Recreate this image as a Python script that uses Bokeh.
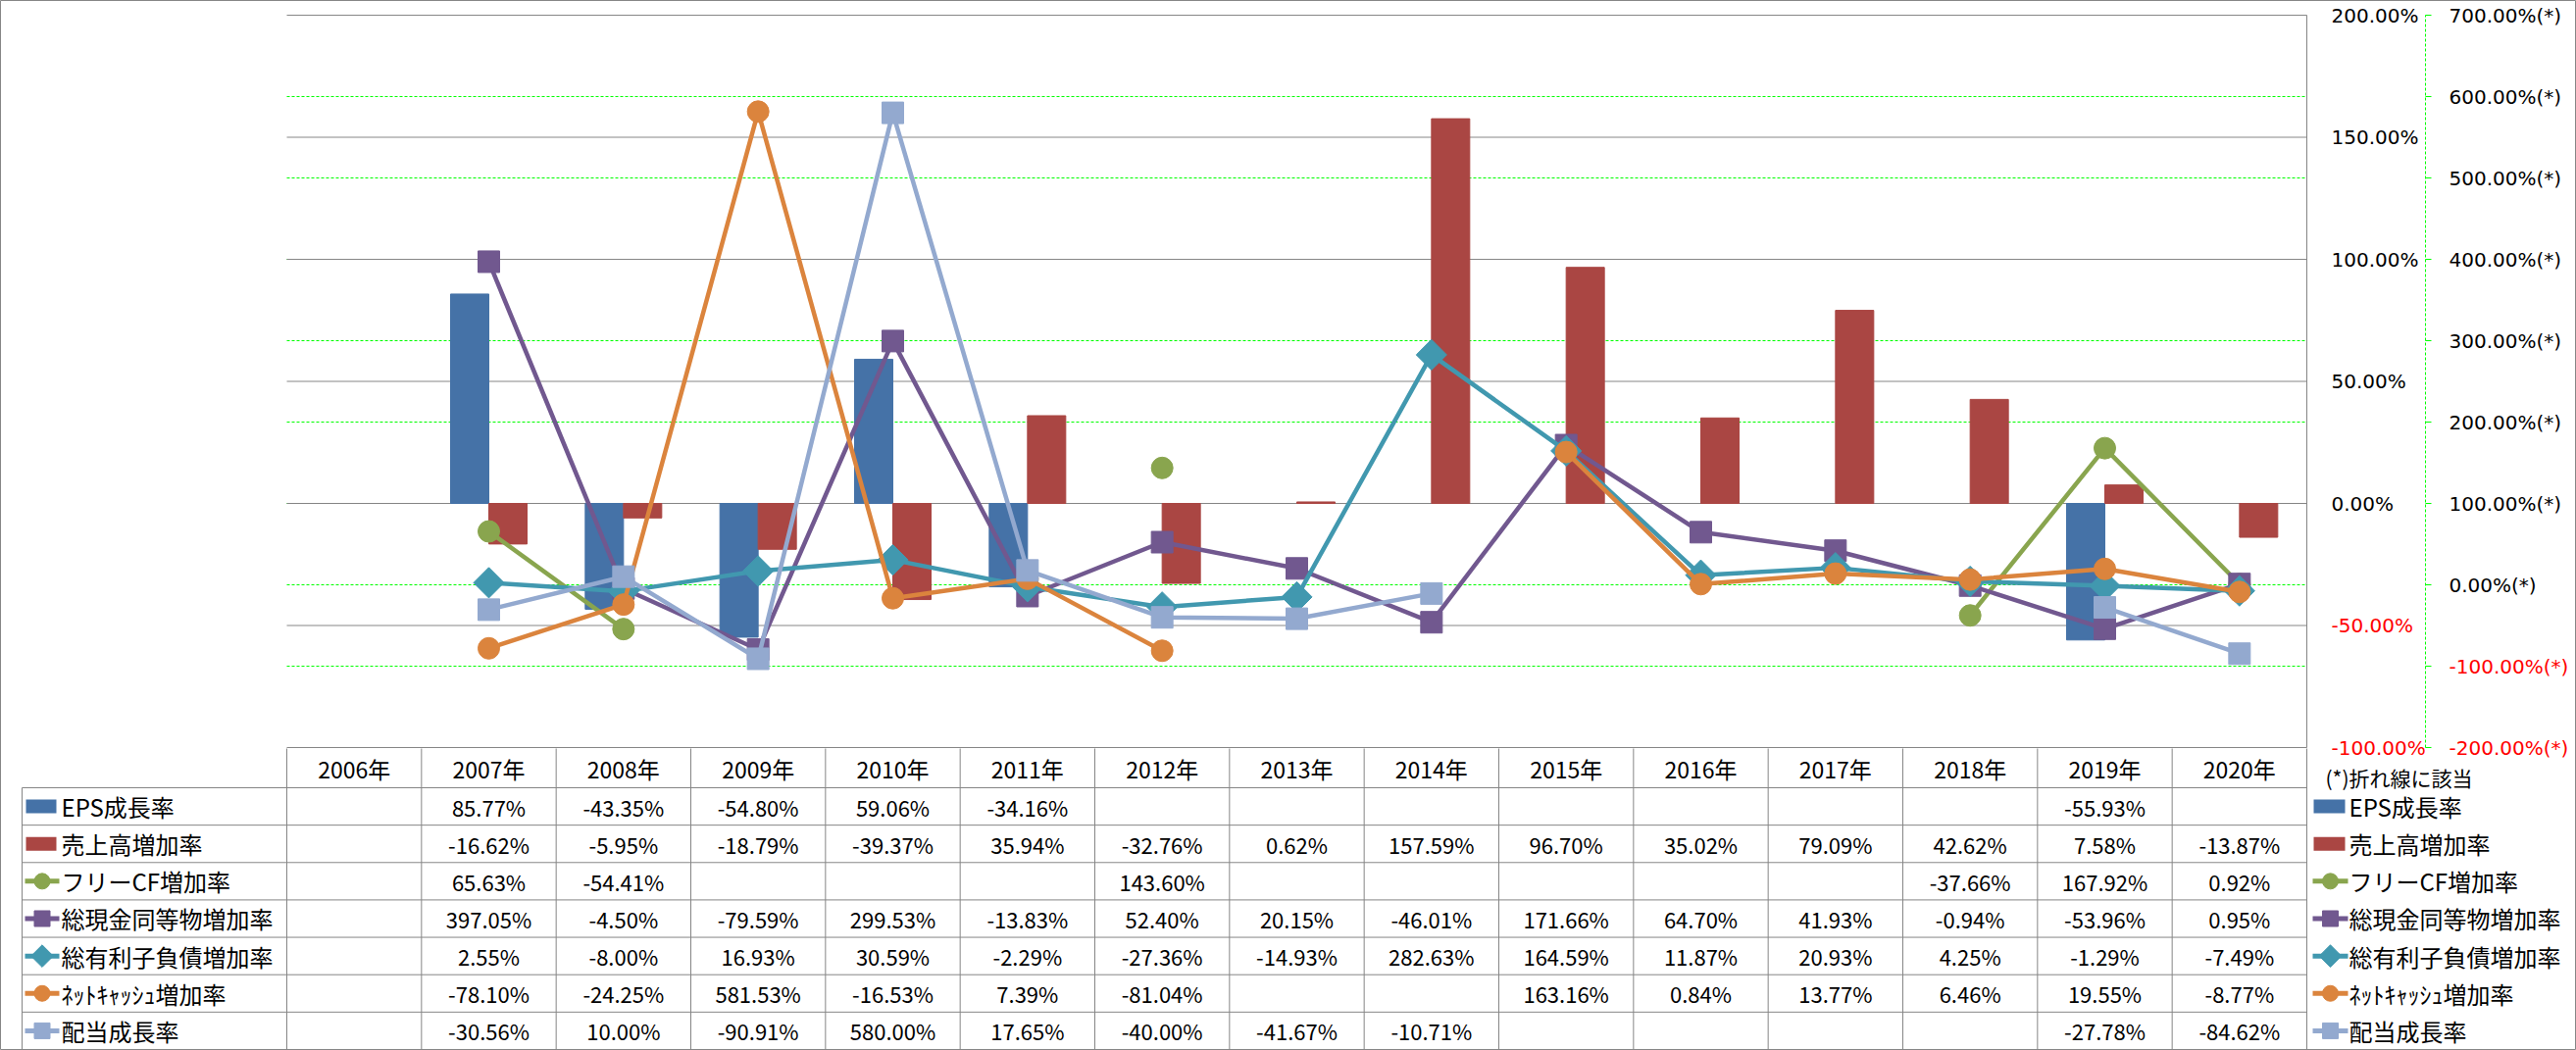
import math
from bokeh.plotting import figure
from bokeh.models import Range1d, ColumnDataSource
from bokeh.embed import file_html
from bokeh.resources import INLINE
from bokeh.core.properties import value
from bokeh.transform import dodge

NaN = float("nan")

# ---------------- data ----------------
years = ["2006年", "2007年", "2008年", "2009年", "2010年", "2011年", "2012年", "2013年",
         "2014年", "2015年", "2016年", "2017年", "2018年", "2019年", "2020年"]
eps_growth = [NaN, 85.77, -43.35, -54.80, 59.06, -34.16, NaN, NaN, NaN, NaN, NaN, NaN, NaN, -55.93, NaN]
sales_growth = [NaN, -16.62, -5.95, -18.79, -39.37, 35.94, -32.76, 0.62, 157.59, 96.70, 35.02, 79.09, 42.62, 7.58, -13.87]
fcf_growth = [NaN, 65.63, -54.41, NaN, NaN, NaN, 143.60, NaN, NaN, NaN, NaN, NaN, -37.66, 167.92, 0.92]
cash_growth = [NaN, 397.05, -4.50, -79.59, 299.53, -13.83, 52.40, 20.15, -46.01, 171.66, 64.70, 41.93, -0.94, -53.96, 0.95]
debt_growth = [NaN, 2.55, -8.00, 16.93, 30.59, -2.29, -27.36, -14.93, 282.63, 164.59, 11.87, 20.93, 4.25, -1.29, -7.49]
netcash_growth = [NaN, -78.10, -24.25, 581.53, -16.53, 7.39, -81.04, NaN, NaN, 163.16, 0.84, 13.77, 6.46, 19.55, -8.77]
dividend_growth = [NaN, -30.56, 10.00, -90.91, 580.00, 17.65, -40.00, -41.67, -10.71, NaN, NaN, NaN, NaN, -27.78, -84.62]

series_names = ["EPS成長率", "売上高増加率", "フリーCF増加率", "総現金同等物増加率",
                "総有利子負債増加率", "ﾈｯﾄｷｬｯｼｭ増加率", "配当成長率"]
primary_ticks = [-100, -50, 0, 50, 100, 150, 200]
secondary_ticks = [-200, -100, 0, 100, 200, 300, 400, 500, 600, 700]
note_text = "(*)折れ線に該当"

# ---------------- style / layout constants ----------------
BLUE, RED, GREEN, PURPLE, TEAL, ORANGE, LBLUE = ("#4572A7", "#AA4643", "#89A54E", "#71588F",
                                                 "#4198AF", "#DB843D", "#93A9CF")
GRAY = "#868686"
LIME = "#00FF00"
JP = "Noto Sans CJK JP"
AXF = "DejaVu Sans"

W, H = 2627, 1071           # canvas (Bokeh's page template has no body margin)
PAGE0 = 0
PLOT_L, PLOT_R = 292, 2352  # plot/table column span (px)
PLOT_T, PLOT_B = 15, 762    # plot area vertical span (px)
HDR_TOP, ROW0, ROW = 763, 803, 38.14
N = len(years)
COL = (PLOT_R - PLOT_L) / N
BW = 39 / COL

P_MIN, P_MAX = primary_ticks[0], primary_ticks[-1]
S_MIN, S_MAX = secondary_ticks[0], secondary_ticks[-1]

def ux(px):
    return 0.5 + (px - PLOT_L) / COL

def y_prim(py):
    return P_MAX - (py - PLOT_T) * (P_MAX - P_MIN) / (PLOT_B - PLOT_T)

def y_sec(py):
    return S_MAX - (py - PLOT_T) * (S_MAX - S_MIN) / (PLOT_B - PLOT_T)

def y_row(py):
    return -0.5 + (py - ROW0) / ROW

xs = list(range(1, N + 1))
src = ColumnDataSource(dict(x=xs, eps=eps_growth, sales=sales_growth, fcf=fcf_growth,
                            cash=cash_growth, debt=debt_growth, net=netcash_growth,
                            div=dividend_growth))

p = figure(width=W, height=H, output_backend="svg", toolbar_location=None, title=None,
           x_range=Range1d(ux(PAGE0), ux(PAGE0 + W)),
           y_range=Range1d(y_prim(PAGE0 + H), y_prim(PAGE0)),
           min_border_left=0, min_border_right=0, min_border_top=0, min_border_bottom=0,
           x_axis_location=None, y_axis_location=None,
           outline_line_color=GRAY, outline_line_width=1)
p.xgrid.visible = False
p.ygrid.visible = False
p.extra_y_ranges = {"sec": Range1d(y_sec(PAGE0 + H), y_sec(PAGE0)),
                    "rows": Range1d(y_row(PAGE0 + H), y_row(PAGE0))}

def pct(v):
    return f"{v:.2f}%"

# ---- grid lines ----
sg = [t for t in secondary_ticks if S_MIN < t < S_MAX]
p.segment(x0=[0.5] * len(sg), x1=[N + 0.5] * len(sg), y0=sg, y1=sg, y_range_name="sec",
          line_color=LIME, line_dash="3 2", line_width=1)
p.segment(x0=[0.5] * len(primary_ticks), x1=[N + 0.5] * len(primary_ticks),
          y0=primary_ticks, y1=primary_ticks, line_color=GRAY, line_width=1)

# ---- primary axis (right of plot) ----
p.segment(x0=[N + 0.5], x1=[N + 0.5], y0=[P_MIN], y1=[P_MAX], line_color=GRAY, line_width=1)
p.text(x=[ux(2377)] * len(primary_ticks), y=primary_ticks, text=[pct(t) for t in primary_ticks],
       text_color=["red" if t < 0 else "black" for t in primary_ticks],
       text_align="left", text_baseline="middle", text_font=value(AXF), text_font_size="20px")

# ---- secondary axis ----
AX2 = ux(2473)
p.segment(x0=[AX2], x1=[AX2], y0=[S_MIN], y1=[S_MAX], y_range_name="sec",
          line_color=LIME, line_dash="3 2", line_width=1)
p.segment(x0=[AX2] * len(secondary_ticks), x1=[ux(2479)] * len(secondary_ticks),
          y0=secondary_ticks, y1=secondary_ticks, y_range_name="sec", line_color=LIME, line_width=1)
p.text(x=[ux(2497)] * len(secondary_ticks), y=secondary_ticks, y_range_name="sec",
       text=[pct(t) + "(*)" for t in secondary_ticks],
       text_color=["red" if t < 0 else "black" for t in secondary_ticks],
       text_align="left", text_baseline="middle", text_font=value(AXF), text_font_size="20px")

# ---- bars ----
p.vbar(x=dodge("x", -BW / 2), top="eps", bottom=0, width=BW, color=BLUE, source=src)
p.vbar(x=dodge("x", BW / 2), top="sales", bottom=0, width=BW, color=RED, source=src)

# ---- lines ----
line_specs = [("fcf", GREEN, "circle", 0), ("cash", PURPLE, "square", 0),
              ("debt", TEAL, "square", math.pi / 4), ("net", ORANGE, "circle", 0),
              ("div", LBLUE, "square", 0)]
for col, c, mk, ang in line_specs:
    p.line("x", col, y_range_name="sec", line_color=c, line_width=4.5, source=src)
    p.scatter("x", col, y_range_name="sec", marker=mk, angle=ang, size=22,
              fill_color=c, line_color=c, source=src)

# ---------------- data table ----------------
nrows = len(series_names)
hy = [i - 0.5 for i in range(nrows + 1)]
p.segment(x0=[ux(22)] * len(hy), x1=[N + 0.5] * len(hy), y0=hy, y1=hy,
          y_range_name="rows", line_color=GRAY, line_width=1)
vx = [0.5 + i for i in range(N + 1)]
p.segment(x0=vx, x1=vx, y0=[y_row(HDR_TOP)] * len(vx), y1=[nrows - 0.5] * len(vx),
          y_range_name="rows", line_color=GRAY, line_width=1)
p.segment(x0=[ux(22)], x1=[ux(22)], y0=[-0.5], y1=[nrows - 0.5],
          y_range_name="rows", line_color=GRAY, line_width=1)

p.text(x=xs, y=[y_row(783)] * N, y_range_name="rows", text=years, text_align="center",
       text_baseline="middle", text_font=value(JP), text_font_size="23px", text_color="black")

all_series = [eps_growth, sales_growth, fcf_growth, cash_growth, debt_growth,
              netcash_growth, dividend_growth]
cx, cy, ct = [], [], []
for r, ser in enumerate(all_series):
    for i, v in enumerate(ser):
        if not math.isnan(v):
            cx.append(xs[i]); cy.append(r); ct.append(pct(v))
p.text(x=cx, y=cy, y_range_name="rows", text=ct, text_align="center", text_baseline="middle",
       text_font=value(JP), text_font_size="22px", text_color="black")

# ---- legends: inside the table's first column and at the right ----
kinds = [("bar", BLUE, None, 0), ("bar", RED, None, 0), ("line", GREEN, "circle", 0),
         ("line", PURPLE, "square", 0), ("line", TEAL, "square", math.pi / 4),
         ("line", ORANGE, "circle", 0), ("line", LBLUE, "square", 0)]
for sx0, sx1, tx in [(26, 57, 62), (2359, 2391, 2395)]:
    for r, (kind, c, mk, ang) in enumerate(kinds):
        if kind == "bar":
            p.rect(x=[ux((sx0 + sx1) / 2)], y=[r], y_range_name="rows", width=sx1 - sx0, height=14,
                   width_units="screen", height_units="screen", fill_color=c, line_color=None)
        else:
            p.segment(x0=[ux(sx0 - 1)], y0=[r], x1=[ux(sx1 + 3)], y1=[r], y_range_name="rows",
                      line_color=c, line_width=5)
            p.scatter(x=[ux((sx0 + sx1) / 2 + 1)], y=[r], y_range_name="rows", marker=mk,
                      angle=ang, size=16, fill_color=c, line_color=c)
    p.text(x=[ux(tx)] * nrows, y=list(range(nrows)), y_range_name="rows", text=series_names,
           text_align="left", text_baseline="middle", text_font=value(JP),
           text_font_size="24px", text_color="black")

p.text(x=[ux(2371)], y=[y_row(792)], y_range_name="rows", text=[note_text], text_align="left",
       text_baseline="middle", text_font=value(JP), text_font_size="21px", text_color="black")

open("out.html", "w").write(file_html(p, INLINE))
